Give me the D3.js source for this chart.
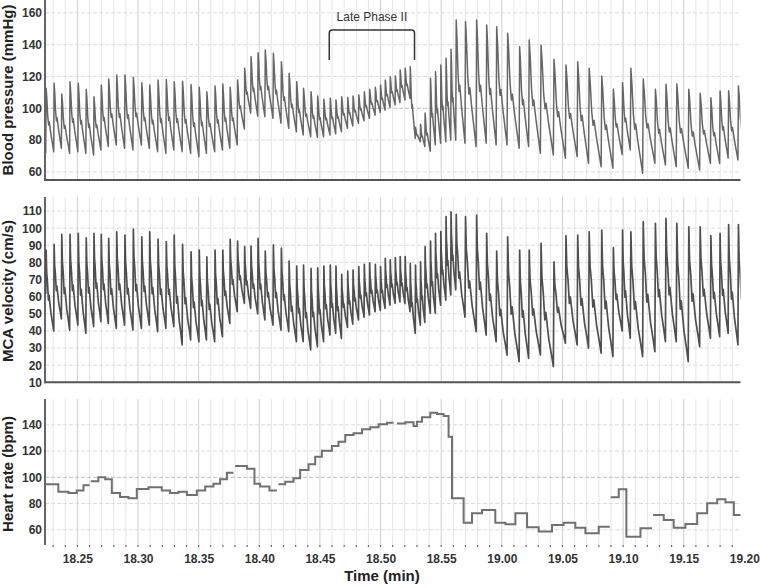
<!DOCTYPE html>
<html><head><meta charset="utf-8">
<script src="https://cdn.jsdelivr.net/npm/d3@7"></script>
<style>body{margin:0;background:#fff}svg{display:block;font-family:"Liberation Sans",Arial,sans-serif}</style>
</head><body><svg id="c" width="760" height="588"></svg>
<script>
// time in seconds after 18:00 (axis labels are min.sec)
const xTickSecs = [25,30,35,40,45,50,55,60,65,70,75,80];
const xTickLabels = ["18.25","18.30","18.35","18.40","18.45","18.50","18.55","19.00","19.05","19.10","19.15","19.20"];
const bpTicks = [60,80,100,120,140,160];
const mcaTicks = [10,20,30,40,50,60,70,80,90,100,110];
const hrTicks = [60,80,100,120,140];

// beat onsets (s)
const beatTime = [22.39,23.05,23.68,24.36,25.04,25.70,26.34,26.94,27.55,28.21,
 28.89,29.58,30.28,30.93,31.62,32.30,32.95,33.64,34.34,35.02,
 35.64,36.32,36.96,37.57,38.18,38.77,39.29,39.87,40.46,41.13,
 41.79,42.43,43.06,43.62,44.24,44.79,45.30,45.83,46.30,46.77,
 47.27,47.71,48.18,48.64,49.08,49.55,49.98,50.37,50.78,51.20,
 51.60,52.01,52.43,52.86,53.28,53.65,54.10,54.51,54.95,55.38,
 55.79,56.20,56.96,57.88,58.71,59.53,60.43,61.43,62.21,63.18,
 64.25,65.24,66.21,67.15,68.19,69.16,69.92,70.59,71.61,72.62,
 73.49,74.38,75.37,76.31,77.20,77.96,78.66,79.47];
const bpSys = [112.6,115.7,109,116.7,115.7,112,107.3,114.7,118.4,121,
 121,119.5,116.1,114.7,117.8,117.9,116.7,117,115,113.2,
 110.4,114,115.3,113.2,117.8,125.2,132.5,135,136.7,134.6,
 129.3,122,116.7,112.6,110.4,107.7,105.7,106.3,105.2,107.3,
 106.8,107.7,108.4,110.4,112,113.2,114.7,117.8,119.9,120.3,
 124.1,125.2,126.2,88,90,97,118.9,123,127.2,131.4,
 137.1,155.5,154.5,155.5,152.4,151.3,147.2,138.7,143,139.8,
 130.8,127.2,129.3,125.2,120.3,112,116.1,125.2,118.4,112,
 115.1,115.3,112,109.4,106.7,110.9,111,114];
const bpDia = [72,72.7,74.8,71.7,72.7,71.7,70.6,73.8,75.9,76.9,
 74.8,73.8,76.9,74.8,72.7,71.7,73.8,72.7,71.7,69.6,
 71.7,72.7,73.8,74.8,76.9,87,97,95,94.7,93.7,
 90.6,87.4,85.3,83.2,82.1,81.7,82.1,83.2,84,85.3,
 87.4,88.9,90.6,92.2,93.7,95.8,97.3,98.9,100.6,102.1,
 103.6,105.2,106.3,81,79,76,73,77,78,79,
 80,80,78,75.9,78,77,76.9,74.8,75.9,71.7,
 70.6,68.6,69.6,65.4,63.3,62.3,71,73.8,59.1,65.4,
 64.3,63.3,62.3,61.2,65.4,65.4,68.6,67.5];
const mcaSys = [87.2,90.5,96.4,96.4,97,94.4,97,96.4,94,97.9,
 96,99.5,95,97.9,93.6,92.1,96,90.5,86.2,87.2,
 83.3,87.2,87.2,93.5,92.5,89.2,89.5,94,86.6,90.2,
 88.3,80.8,77.9,78.4,76.5,76.8,77.9,78.4,77.9,73,
 75,75.5,77.5,78.9,79.8,78.9,77.5,82.4,81.5,82.8,
 83.4,83.4,79.4,78.4,80.3,89.2,92.5,97,98,106.7,
 109.6,108,106.7,107.7,97,86.6,95,87.2,87.2,91.1,
 80.4,95.6,95.9,97.9,98.8,88.6,98.8,97.9,103.8,102.8,
 105.7,102.8,100.8,100.8,95.6,97,102.1,102.1];
const mcaDia = [62,40,47,40.5,43.4,38.6,42.5,45.4,44.4,41.5,
 43.4,40.5,41.5,43.4,39.6,41.5,42.5,31.8,34.7,33.7,
 34.7,33.7,36.6,44.4,51.2,56.1,53.2,50,46.4,43.4,
 40.5,39.6,33.7,33.7,28.9,30.8,33.7,37.6,38.6,35.7,
 42,44,46.4,48,49.3,51.2,52,53.2,55.1,56.1,
 57,56,51.2,38.6,43.4,45,50.3,50.3,55,58,
 61,64,48,39.6,37.6,33.7,25.9,22,24,26,
 19.1,32.8,31.8,29.9,27,25,40,35.7,25,27.9,
 33.7,33.7,22,30.8,35.7,36.6,38.6,31.8];
// beat morphology read from a typical beat: [fraction of interval, level between next trough(0) and peak(1)]
const bpShape = [[0.05,1.0],[0.13,0.86],[0.25,0.56],[0.36,0.42],[0.44,0.47],[0.62,0.3],[0.85,0.12]];
const mcaShape = [[0.05,1.0],[0.12,0.72],[0.22,0.6],[0.34,0.38],[0.42,0.44],[0.65,0.22],[0.85,0.1]];

// heart rate steps (start s, bpm); null = gap
const hrTime = [22.33,23.43,24.26,24.95,25.50,26.00,26.10,26.73,27.29,27.84,28.52,29.21,29.90,30.86,31.96,32.65,33.33,34.03,34.85,35.54,36.22,36.77,37.33,37.87,
 38.01,38.98,39.60,40.07,40.84,41.45,41.58,42.14,42.82,43.37,44.06,44.61,45.16,45.99,46.53,47.09,47.77,48.47,49.15,49.84,50.53,51.07,
 51.35,52.04,52.72,53.00,53.42,54.10,54.65,55.20,55.61,55.89,56.85,57.54,58.37,59.46,60.30,61.12,62.08,63.04,64.14,65.10,66.06,66.89,67.99,68.90,
 68.98,69.64,70.27,71.43,72.39,72.47,73.35,74.17,75.14,76.11,76.93,77.76,78.44,79.13,79.68];
const hrValue = [94.7,89,88,90,94,null,97,100,98.5,88,85,84,91,92.4,90,88,89,86.5,90,93,95,98.5,103.5,null,
 108.6,106.6,95,93,90,null,94.7,96.7,99.2,105.6,110,115.7,120.3,123.8,127.1,132.2,133.5,136.6,138.1,140.4,141.6,null,
 141.1,141.9,139.1,142.4,145.7,149.2,148.2,146.7,130.9,84,65.4,72.6,75.1,65.4,64.2,72.6,61.9,58.6,63.7,65.4,61.5,57.3,62.4,null,
 84.8,90.9,54.7,61.1,null,71.3,67.5,61.5,64.5,72.6,80.2,83.2,80.9,71.3,null];

const svg = d3.select("#c");
const x = d3.scaleLinear().domain([22.33, 79.68]).range([45, 740.5]);
const L = 45, R = 740.5;

const panels = [
  {id:"bp", y:d3.scaleLinear().domain([54.9,168.1]).range([180,0]), ticks:bpTicks, title:"Blood pressure (mmHg)", tcy:90, bottom:true},
  {id:"mca", y:d3.scaleLinear().domain([10,118.2]).range([382.3,197]), ticks:mcaTicks, title:"MCA velocity (cm/s)", tcy:291, bottom:true},
  {id:"hr", y:d3.scaleLinear().domain([48.4,159.7]).range([545,399]), ticks:hrTicks, title:"Heart rate (bpm)", tcy:474, bottom:false}
];

panels.forEach(p => {
  const [y0, y1] = p.y.range();
  const g = svg.append("g");
  g.append("clipPath").attr("id","clip-"+p.id).append("rect")
    .attr("x",L).attr("y",y1).attr("width",R-L).attr("height",y0-y1);
  const secs = d3.range(23, 80);
  g.selectAll(".vg").data(secs).join("line")
    .attr("x1",d=>x(d)).attr("x2",d=>x(d)).attr("y1",y1).attr("y2",y0)
    .attr("stroke",d=>d%5===0?"#cfcfcf":"#e6e6e6").attr("stroke-width",1);
  g.selectAll(".hg").data(p.ticks).join("line")
    .attr("x1",L).attr("x2",R).attr("y1",d=>p.y(d)).attr("y2",d=>p.y(d))
    .attr("stroke",d=>d===100&&p.id!=="mca"?"#bdbdbd":"#dcdcdc")
    .attr("stroke-dasharray","4,2").attr("stroke-width",1);
  const ax = g.append("g").attr("transform",`translate(${L},0)`)
    .call(d3.axisLeft(p.y).tickValues(p.ticks).tickSize(0).tickPadding(3));
  ax.select(".domain").remove();
  ax.selectAll("text").attr("font-size",12).attr("font-weight","bold").attr("fill","#333")
    .attr("font-family",'"Liberation Sans",Arial,sans-serif');
  g.append("line").attr("x1",L).attr("x2",L).attr("y1",y1).attr("y2",y0+(p.bottom?1:0))
    .attr("stroke","#555").attr("stroke-width",1.8);
  if (p.bottom) {
    g.append("line").attr("x1",L-1).attr("x2",R).attr("y1",y0).attr("y2",y0)
      .attr("stroke","#555").attr("stroke-width",2);
  }
  g.append("text").attr("transform",`translate(13,${p.tcy}) rotate(-90)`)
    .attr("text-anchor","middle").attr("font-size",15).attr("font-weight","bold")
    .attr("fill","#222").text(p.title);
  p.g = g;
});

function wave(sys, dia, shape) {
  const n = beatTime.length;
  const pts = [[x.domain()[0], dia[0]]];
  for (let i = 0; i < n; i++) {
    const t = beatTime[i];
    const tn = i < n-1 ? beatTime[i+1] : t + (t - beatTime[i-1]);
    const dn = i < n-1 ? dia[i+1] : dia[i];
    pts.push([t, dia[i]]);
    shape.forEach(([f, l]) => pts.push([t + f*(tn - t), dn + l*(sys[i] - dn)]));
    if (i === n-1) pts.push([tn, dn]);
  }
  return pts;
}

const bpP = panels[0], mcaP = panels[1], hrP = panels[2];
bpP.g.append("path").attr("clip-path","url(#clip-bp)")
  .attr("d", d3.line().x(d=>x(d[0])).y(d=>bpP.y(d[1]))(wave(bpSys, bpDia, bpShape)))
  .attr("fill","none").attr("stroke","#666").attr("stroke-width",1.5).attr("stroke-linejoin","round");
mcaP.g.append("path").attr("clip-path","url(#clip-mca)")
  .attr("d", d3.line().x(d=>x(d[0])).y(d=>mcaP.y(d[1]))(wave(mcaSys, mcaDia, mcaShape)))
  .attr("fill","none").attr("stroke","#4f4f4f").attr("stroke-width",1.7).attr("stroke-linejoin","round");

const segs = [];
let cur = [];
for (let i = 0; i < hrTime.length; i++) {
  if (hrValue[i] != null) cur.push([hrTime[i], hrValue[i]]);
  else if (cur.length) { cur.push([hrTime[i], cur[cur.length-1][1]]); segs.push(cur); cur = []; }
}
const stepLine = d3.line().x(d=>x(d[0])).y(d=>hrP.y(d[1])).curve(d3.curveStepAfter);
hrP.g.selectAll(".hrseg").data(segs).join("path").attr("d", stepLine)
  .attr("fill","none").attr("stroke","#707070").attr("stroke-width",2);

const xg = svg.append("g");
xg.selectAll(".tk").data(d3.range(23, 80)).join("line")
  .attr("x1",d=>x(d)).attr("x2",d=>x(d)).attr("y1",545).attr("y2",547)
  .attr("stroke","#666").attr("stroke-width",1.2);
const xa = xg.append("g").attr("transform","translate(0,545)")
  .call(d3.axisBottom(x).tickValues(xTickSecs).tickFormat((d,i)=>xTickLabels[i]).tickSize(0).tickPadding(9));
xa.select(".domain").remove();
xa.selectAll("text").attr("font-size",12).attr("font-weight","bold").attr("fill","#333")
  .attr("font-family",'"Liberation Sans",Arial,sans-serif');
svg.append("text").attr("x",382).attr("y",581).attr("text-anchor","middle")
  .attr("font-size",15).attr("font-weight","bold").attr("fill","#222").text("Time (min)");

const bx0 = x(45.77), bx1 = x(52.8), by0 = 30, by1 = 60;
svg.append("path").attr("d",`M${bx0},${by1} L${bx0},${by0+3} Q${bx0},${by0} ${bx0+3},${by0} L${bx1-3},${by0} Q${bx1},${by0} ${bx1},${by0+3} L${bx1},${by1}`)
  .attr("fill","none").attr("stroke","#333").attr("stroke-width",1.5);
svg.append("text").attr("x",(bx0+bx1)/2).attr("y",21).attr("text-anchor","middle")
  .attr("font-size",12).attr("fill","#333").text("Late Phase II");
</script></body></html>
